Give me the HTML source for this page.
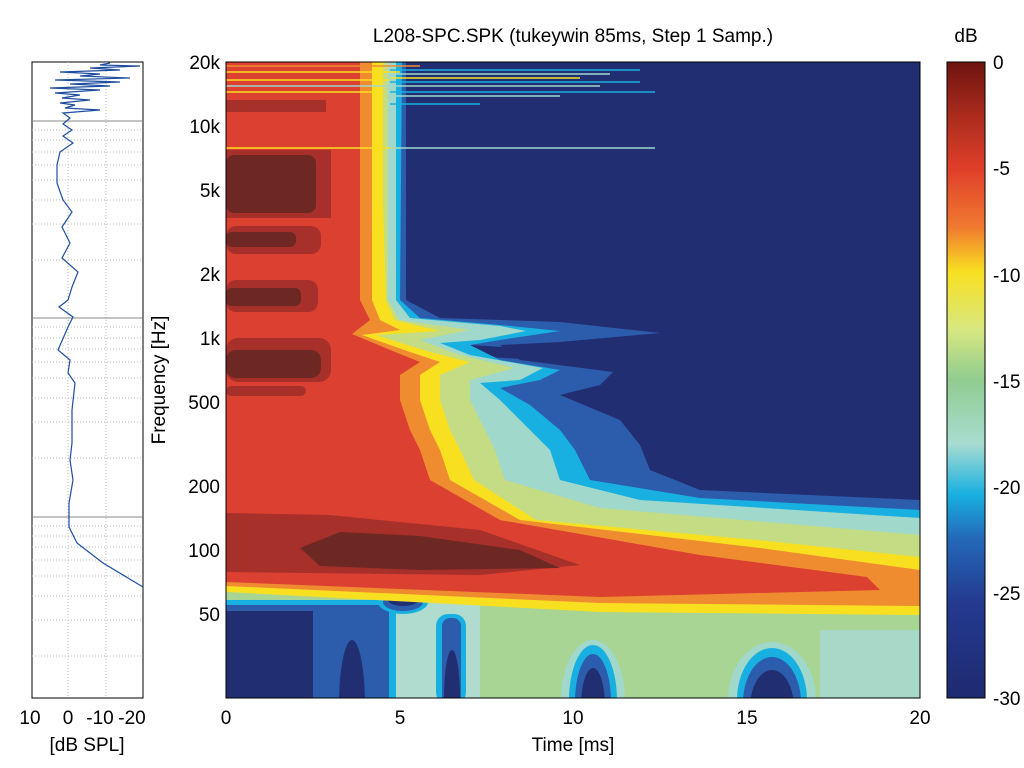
<!DOCTYPE html>
<html><head><meta charset="utf-8"><style>
body{margin:0;background:#fff;}
svg{display:block;font-family:"Liberation Sans",sans-serif;}
</style></head><body>
<svg width="1024" height="768" xmlns="http://www.w3.org/2000/svg">
<defs>
<clipPath id="pc"><rect x="226" y="62" width="694" height="636"/></clipPath>
<linearGradient id="cb" x1="0" y1="0" x2="0" y2="1">
<stop offset="0" stop-color="#6e1410"/>
<stop offset="0.08" stop-color="#a82a1c"/>
<stop offset="0.17" stop-color="#e0402a"/>
<stop offset="0.26" stop-color="#f07a30"/>
<stop offset="0.33" stop-color="#f8e020"/>
<stop offset="0.42" stop-color="#d8e880"/>
<stop offset="0.50" stop-color="#90cc90"/>
<stop offset="0.60" stop-color="#a8dcd0"/>
<stop offset="0.68" stop-color="#18b0e0"/>
<stop offset="0.75" stop-color="#2468b8"/>
<stop offset="0.85" stop-color="#243a90"/>
<stop offset="1" stop-color="#1e2a70"/>
</linearGradient>
</defs>

<text x="573" y="42" font-size="19" text-anchor="middle">L208-SPC.SPK (tukeywin 85ms, Step 1 Samp.)</text>

<g clip-path="url(#pc)">
<rect x="226" y="62" width="694" height="636" fill="#222e72"/>
<polygon fill="#2c5cac" points="226,62 406,62 406,300 440,318 560,322 660,333 560,342 500,345 520,360 613,372 600,385 560,395 620,420 640,445 650,470 700,490 920,500 920,640 226,640"/>
<polygon fill="#222e72" points="470,345 520,348 540,360 470,356"/>
<polygon fill="#18b0e0" points="226,62 402,62 400,300 420,318 500,325 560,331 500,340 470,345 500,360 560,370 540,380 500,388 530,405 560,430 575,450 590,480 700,498 920,510 920,640 226,640"/>
<polygon fill="#a0d8cc" points="226,62 396,62 396,300 410,318 500,326 526,331 480,340 440,343 470,355 543,368 520,380 480,383 500,400 530,430 550,450 560,480 640,500 920,518 920,640 226,640"/>
<ellipse cx="378" cy="337" rx="10" ry="3" fill="#222e72"/>
<ellipse cx="428" cy="386" rx="18" ry="5" fill="#2c5cac"/>
<ellipse cx="395" cy="412" rx="10" ry="6" fill="#222e72"/>
<polygon fill="#c4dc84" points="226,62 388,62 388,300 400,320 470,330 420,340 460,355 515,368 470,380 470,400 485,430 495,450 505,480 600,508 920,535 920,640 226,640"/>
<!-- bottom region -->
<rect x="226" y="585" width="694" height="113" fill="#a8d494"/>
<rect x="380" y="598" width="100" height="100" fill="#b0dccf"/>
<rect x="820" y="630" width="100" height="68" fill="#a8d8c8"/>
<rect x="226" y="600" width="170" height="98" fill="#18b0e0"/>
<rect x="226" y="605" width="163" height="93" fill="#2c5cac"/>
<rect x="226" y="611" width="87" height="87" fill="#222e72"/>
<ellipse cx="352" cy="705" rx="13" ry="65" fill="#222e72"/>
<ellipse cx="403" cy="602" rx="25" ry="12" fill="#18b0e0"/>
<ellipse cx="403" cy="602" rx="20" ry="9" fill="#2c5cac"/>
<ellipse cx="403" cy="600" rx="15" ry="6" fill="#222e72"/>
<rect x="436" y="614" width="30" height="90" rx="12" fill="#18b0e0"/>
<rect x="442" y="618" width="19" height="86" rx="8" fill="#2c5cac"/>
<ellipse cx="452" cy="698" rx="8" ry="48" fill="#222e72"/>
<ellipse cx="593" cy="700" rx="32" ry="60" fill="#a0d8cc"/>
<ellipse cx="593" cy="700" rx="24" ry="55" fill="#18b0e0"/>
<ellipse cx="593" cy="702" rx="18" ry="48" fill="#2c5cac"/>
<ellipse cx="593" cy="706" rx="12" ry="38" fill="#222e72"/>
<ellipse cx="772" cy="700" rx="44" ry="58" fill="#a0d8cc"/>
<ellipse cx="772" cy="700" rx="35" ry="52" fill="#18b0e0"/>
<ellipse cx="772" cy="703" rx="29" ry="46" fill="#2c5cac"/>
<ellipse cx="772" cy="708" rx="22" ry="38" fill="#222e72"/>
<polygon fill="#f8e020" points="226,62 383,62 383,200 386,300 395,320 440,331 376,335 430,352 470,362 440,375 440,400 450,430 460,450 474,480 536,520 757,540 920,557 920,615 600,612 226,592"/>
<polygon fill="#f08c30" points="226,62 372,62 372,300 380,320 400,330 362,335 410,352 440,362 420,375 420,400 430,430 440,450 450,480 520,520 760,548 920,570 920,606 600,603 226,586"/>
<polygon fill="#dc4030" points="226,62 360,62 360,300 370,320 352,334 395,352 420,362 400,375 400,400 410,430 420,450 430,480 500,520 700,555 867,577 880,590 600,597 226,582"/>
<g fill="#a8302a">
<rect x="226" y="100" width="100" height="12"/>
<rect x="226" y="150" width="105" height="68"/>
<rect x="226" y="226" width="95" height="28" rx="10"/>
<rect x="226" y="280" width="92" height="32" rx="10"/>
<rect x="226" y="338" width="105" height="44" rx="12"/>
<rect x="226" y="386" width="80" height="10" rx="5"/>
<polygon points="226,513 330,515 480,530 580,565 480,575 226,572"/>
</g>
<g fill="#6e2824">
<rect x="226" y="155" width="90" height="58" rx="8"/>
<rect x="226" y="232" width="70" height="15" rx="6"/>
<rect x="226" y="288" width="75" height="18" rx="6"/>
<rect x="226" y="350" width="95" height="28" rx="10"/>
<polygon points="300,548 340,532 420,536 520,550 560,568 420,570 320,566"/>
</g>
<g stroke-width="1.5">
<line x1="226" y1="66" x2="420" y2="66" stroke="#f08c30"/>
<line x1="226" y1="72" x2="400" y2="72" stroke="#f8e020"/>
<line x1="226" y1="80" x2="390" y2="80" stroke="#f8e020"/>
<line x1="226" y1="86" x2="390" y2="86" stroke="#a0d8cc"/>
<line x1="226" y1="92" x2="380" y2="92" stroke="#f8e020"/>
<line x1="390" y1="70" x2="640" y2="70" stroke="#18b0e0"/>
<line x1="390" y1="74" x2="610" y2="74" stroke="#a0d8cc"/>
<line x1="390" y1="78" x2="580" y2="78" stroke="#f8e020"/>
<line x1="390" y1="82" x2="640" y2="82" stroke="#18b0e0"/>
<line x1="390" y1="86" x2="600" y2="86" stroke="#a0d8cc"/>
<line x1="390" y1="92" x2="655" y2="92" stroke="#18b0e0"/>
<line x1="390" y1="96" x2="560" y2="96" stroke="#a0d8cc"/>
<line x1="390" y1="104" x2="480" y2="104" stroke="#18b0e0"/>
<line x1="226" y1="148" x2="400" y2="148" stroke="#f8e020"/>
<line x1="390" y1="148" x2="655" y2="148" stroke="#a0d8cc"/>
</g>
</g>
<rect x="226" y="62" width="694" height="636" fill="none" stroke="#000" stroke-width="1"/>

<g font-size="19" text-anchor="end">
<text x="220" y="69">20k</text><text x="220" y="133">10k</text><text x="220" y="197">5k</text>
<text x="220" y="281">2k</text><text x="220" y="345">1k</text><text x="220" y="409">500</text>
<text x="220" y="493">200</text><text x="220" y="557">100</text><text x="220" y="621">50</text>
</g>
<text transform="translate(165,380) rotate(-90)" font-size="19" text-anchor="middle">Frequency [Hz]</text>
<g font-size="19" text-anchor="middle">
<text x="226" y="724">0</text><text x="400" y="724">5</text><text x="573" y="724">10</text>
<text x="747" y="724">15</text><text x="920" y="724">20</text>
<text x="573" y="751">Time [ms]</text>
</g>

<text x="966" y="42" font-size="19" text-anchor="middle">dB</text>
<rect x="947" y="62" width="38" height="636" fill="url(#cb)" stroke="#000"/>
<g font-size="19">
<text x="993" y="69">0</text><text x="993" y="175">-5</text><text x="993" y="282">-10</text>
<text x="993" y="388">-15</text><text x="993" y="494">-20</text><text x="993" y="600">-25</text><text x="993" y="705">-30</text>
</g>

<rect x="32" y="62" width="111" height="636" fill="#fff" stroke="#000"/>
<g stroke="#bbb" stroke-dasharray="1,2">
<line x1="68" y1="62" x2="68" y2="698"/><line x1="106" y1="62" x2="106" y2="698"/>
<line x1="32" y1="121" x2="143" y2="121" stroke="#888" stroke-dasharray="none"/>
<line x1="32" y1="318" x2="143" y2="318" stroke="#888" stroke-dasharray="none"/>
<line x1="32" y1="517" x2="143" y2="517" stroke="#888" stroke-dasharray="none"/>
<line x1="32" y1="130" x2="143" y2="130"/><line x1="32" y1="140" x2="143" y2="140"/><line x1="32" y1="152" x2="143" y2="152"/><line x1="32" y1="165" x2="143" y2="165"/><line x1="32" y1="180" x2="143" y2="180"/><line x1="32" y1="200" x2="143" y2="200"/><line x1="32" y1="224" x2="143" y2="224"/><line x1="32" y1="260" x2="143" y2="260"/>
<line x1="32" y1="327" x2="143" y2="327"/><line x1="32" y1="338" x2="143" y2="338"/><line x1="32" y1="349" x2="143" y2="349"/><line x1="32" y1="362" x2="143" y2="362"/><line x1="32" y1="378" x2="143" y2="378"/><line x1="32" y1="398" x2="143" y2="398"/><line x1="32" y1="422" x2="143" y2="422"/><line x1="32" y1="458" x2="143" y2="458"/>
<line x1="32" y1="526" x2="143" y2="526"/><line x1="32" y1="536" x2="143" y2="536"/><line x1="32" y1="547" x2="143" y2="547"/><line x1="32" y1="560" x2="143" y2="560"/><line x1="32" y1="576" x2="143" y2="576"/><line x1="32" y1="596" x2="143" y2="596"/><line x1="32" y1="620" x2="143" y2="620"/><line x1="32" y1="656" x2="143" y2="656"/>
</g>
<polyline fill="none" stroke="#1f4ea0" stroke-width="1.2" points="110,63 100,65 140,66 90,68 120,70 60,72 100,74 80,76 130,78 55,80 120,82 70,84 110,86 50,88 100,90 55,93 80,95 62,98 90,100 60,103 75,105 65,108 100,110 63,113 70,118 63,124 72,130 63,136 73,143 60,152 57,165 57,183 63,200 72,212 62,227 70,243 62,258 78,272 72,287 68,300 59,307 73,317 68,327 58,350 70,360 68,373 75,383 72,410 72,443 70,460 73,480 69,503 69,527 77,543 103,563 143,587"/>
<g font-size="19" text-anchor="middle">
<text x="30" y="724">10</text><text x="68" y="724">0</text><text x="100" y="724">-10</text><text x="132" y="724">-20</text>
<text x="87" y="751">[dB SPL]</text>
</g>
</svg>
</body></html>
